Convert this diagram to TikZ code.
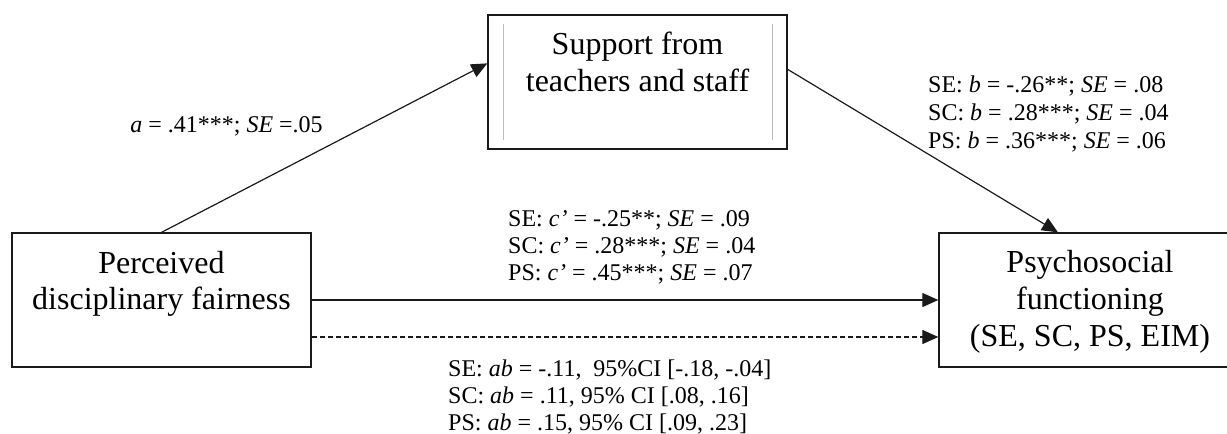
\documentclass[tikz,border=0pt]{standalone}
\usepackage{fontspec}
\setmainfont{Liberation Serif}
\usetikzlibrary{arrows.meta}
\definecolor{linec}{HTML}{1A1A1A}
\definecolor{innerc}{HTML}{BDBDBD}
\tikzset{
  boxnode/.style={draw=linec, line width=1.3pt, rectangle, inner sep=0pt},
  boxtext/.style={font=\fontsize{32}{37}\selectfont, inner sep=0pt, anchor=base},
  lab/.style={font=\fontsize{24}{27}\selectfont, inner sep=0pt, anchor=base west},
  labc/.style={font=\fontsize{24}{27}\selectfont, inner sep=0pt, anchor=base},
  conn/.style={draw=linec, line width=1.2pt, -{Triangle[length=16pt,width=14pt]}},
  dashconn/.style={conn, dash pattern=on 5pt off 3pt},
  innerline/.style={draw=innerc, line width=0.9pt}
}
\begin{document}
\begin{tikzpicture}[x=1pt,y=-1pt]
\useasboundingbox (0,0) rectangle (1227,434);
% boxes
\node[boxnode, minimum width=299pt, minimum height=134pt] (pdf) at (161.5,300) {};
\node[boxnode, minimum width=299pt, minimum height=134pt] (sup) at (637.5,82) {};
\node[boxnode, minimum width=302pt, minimum height=134pt] (psy) at (1090,300) {};
% inner grey lines of the top box
\draw[innerline] ([shift={(16pt,-10pt)}]sup.north west) -- ([shift={(16pt,10pt)}]sup.south west);
\draw[innerline] ([shift={(-15pt,-10pt)}]sup.north east) -- ([shift={(-15pt,10pt)}]sup.south east);
% box texts
\node[boxtext] (pdf1) at (161.5,273) {Perceived};
\node[boxtext] (pdf2) at (161.5,309) {disciplinary fairness};
\node[boxtext] (sup1) at (637.5,54) {Support from};
\node[boxtext] (sup2) at (637.5,91) {teachers and staff};
\node[boxtext] (psy1) at (1090,272) {Psychosocial};
\node[boxtext] (psy2) at (1090,309) {functioning};
\node[boxtext] (psy3) at (1090,346) {(SE, SC, PS, EIM)};
% connectors
\draw[conn] (pdf.north) -- ([yshift=-49pt]sup.north west);
\draw[conn] ([yshift=-55pt]sup.north east) -- ([xshift=-32pt]psy.north);
\draw[conn] (pdf.east) -- (psy.west);
\draw[dashconn] ([yshift=-37pt]pdf.east) -- ([yshift=-37pt]psy.west);
% labels
\node[labc] (la) at (226.5,132) {\textit{a} = .41***; \textit{SE} =.05};
\node[lab] (lb1) at (928,92) {SE: \textit{b} = -.26**; \textit{SE} = .08};
\node[lab] (lb2) at (928,120) {SC: \textit{b} = .28***; \textit{SE} = .04};
\node[lab] (lb3) at (928,148) {PS: \textit{b} = .36***; \textit{SE} = .06};
\node[lab] (lc1) at (508,226) {SE: \textit{c’} = -.25**; \textit{SE} = .09};
\node[lab] (lc2) at (508,253) {SC: \textit{c’} = .28***; \textit{SE} = .04};
\node[lab] (lc3) at (508,280) {PS: \textit{c’} = .45***; \textit{SE} = .07};
\node[lab] (lab1) at (448,376) {SE: \textit{ab} = -.11,\ \ 95\%CI [-.18, -.04]};
\node[lab] (lab2) at (448,403) {SC: \textit{ab} = .11, 95\% CI [.08, .16]};
\node[lab] (lab3) at (448,430) {PS: \textit{ab} = .15, 95\% CI [.09, .23]};
\end{tikzpicture}
\end{document}
